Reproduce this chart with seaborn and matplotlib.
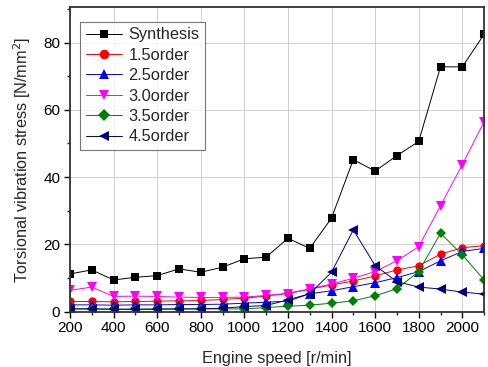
import pandas as pd
import seaborn as sns
import matplotlib.pyplot as plt
from matplotlib.ticker import MultipleLocator

speed = list(range(200, 2101, 100))

synthesis = [11.2, 12.4, 9.4, 10.2, 10.7, 12.7, 11.7, 13.2, 15.7, 16.2,
             21.8, 18.8, 27.8, 45.2, 41.8, 46.4, 50.6, 72.8, 72.8, 82.5]
order_15 = [3.0, 3.0, 2.9, 3.0, 3.1, 3.2, 3.3, 3.6, 4.0, 4.6,
            5.5, 6.7, 7.9, 9.1, 10.6, 12.4, 13.6, 17.1, 19.0, 19.6]
order_25 = [2.0, 2.0, 1.9, 2.0, 2.0, 2.1, 2.1, 2.2, 2.5, 2.8,
            3.1, 5.3, 6.2, 7.4, 8.6, 10.1, 11.9, 15.1, 17.9, 18.8]
order_30 = [6.3, 7.3, 4.5, 4.6, 4.5, 4.3, 4.2, 4.2, 4.3, 4.8,
            5.3, 6.7, 8.2, 9.9, 11.9, 15.1, 19.3, 31.5, 43.7, 56.5]
order_35 = [0.8, 0.8, 0.7, 0.7, 0.8, 0.8, 0.8, 0.8, 0.8, 1.2,
            1.6, 1.9, 2.5, 3.2, 4.7, 6.8, 11.9, 23.3, 16.9, 9.4]
order_45 = [0.8, 0.8, 0.7, 0.7, 0.7, 0.8, 0.8, 1.0, 1.5, 1.8,
            3.5, 5.3, 11.7, 24.3, 13.7, 8.9, 7.3, 6.7, 5.8, 5.2]

labels = ['Synthesis', '1.5order', '2.5order', '3.0order', '3.5order', '4.5order']
series = [synthesis, order_15, order_25, order_30, order_35, order_45]
colors = ['black', 'red', 'blue', 'magenta', '#008000', '#000080']
markers = ['s', 'o', '^', 'v', 'D', '<']
sizes = [5.5, 6, 6.5, 6.5, 5.5, 6.5]

sns.set_style("ticks")
plt.rcParams['font.family'] = ['Liberation Sans', 'DejaVu Sans']

fig = plt.figure(figsize=(4.89, 3.67), dpi=100)
ax = fig.add_axes([0.143, 0.151, 0.847, 0.829])

for lab, vals, c, m, ms in zip(labels, series, colors, markers, sizes):
    df = pd.DataFrame({'speed': speed, 'value': vals})
    sns.lineplot(data=df, x='speed', y='value', ax=ax, color=c, marker=m,
                 markersize=ms, markeredgewidth=0, linewidth=0.7, label=lab)

ax.set_xlim(200, 2100)
ax.set_ylim(0, 90.5)
ax.xaxis.set_major_locator(MultipleLocator(200))
ax.xaxis.set_minor_locator(MultipleLocator(100))
ax.yaxis.set_major_locator(MultipleLocator(20))
ax.yaxis.set_minor_locator(MultipleLocator(10))
ax.grid(True, which='major', color='#d0d0d0', linewidth=0.7)
ax.tick_params(which='major', direction='out', length=4, width=1, labelsize=11, colors='black', pad=3)
ax.tick_params(which='minor', direction='out', length=2.5, width=1)
for sp in ax.spines.values():
    sp.set_visible(True)
    sp.set_linewidth(1.3)
    sp.set_color('#333333')

ax.set_xlabel('Engine speed [r/min]', fontsize=11.7, labelpad=11)
ax.set_ylabel('Torsional vibration stress [N/mm$^2$]', fontsize=11.7, labelpad=7)

leg = ax.legend(loc='upper left', bbox_to_anchor=(0.005, 0.98), fontsize=11.8,
                frameon=True, fancybox=False, edgecolor='#555555',
                handlelength=2.2, labelspacing=0.33, borderpad=0.35,
                handletextpad=0.4, markerscale=1.15)
leg.get_frame().set_linewidth(0.8)

fig.savefig('out.png', dpi=100)
